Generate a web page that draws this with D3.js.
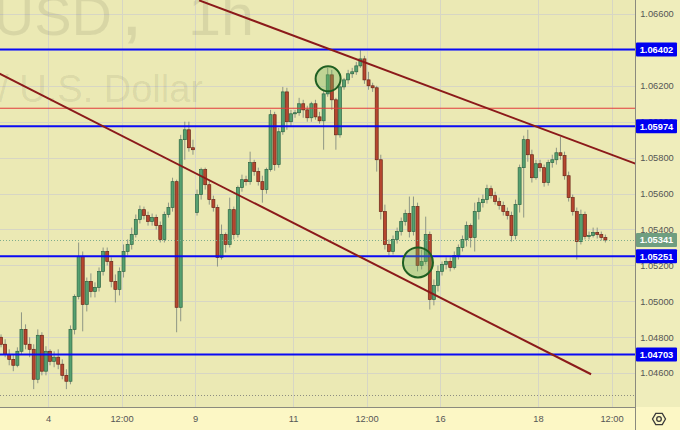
<!DOCTYPE html>
<html><head><meta charset="utf-8">
<script src="https://cdn.jsdelivr.net/npm/d3@7"></script>
<style>html,body{margin:0;padding:0;background:#fcf7c5;} svg{display:block;}</style>
</head><body><svg id="c" width="680" height="430"></svg>
<script>
// ---- data ----
const days = ["3","4","5","6","9","10","11","12","13","16","17","18","19"];
const barsPerDay = 12; // 2-hour bars
const opens = [
1.04799,1.04760,1.04704,1.04676,1.04643,1.04721,1.04843,1.04760,1.04732,1.04565,1.04810,1.04610,
1.04721,1.04665,1.04688,1.04649,1.04587,1.04554,1.04843,1.05027,1.05249,1.04982,1.05110,1.05054,
1.05077,1.05166,1.05277,1.05221,1.05110,1.05066,1.05166,1.05277,1.05316,1.05371,1.05455,1.05510,
1.05477,1.05444,1.05466,1.05421,1.05344,1.05483,1.05522,1.05666,1.04966,1.05900,1.05955,1.05855,
1.05494,1.05594,1.05733,1.05649,1.05566,1.05522,1.05244,1.05371,1.05316,1.05510,1.05371,1.05633,
1.05677,1.05666,1.05772,1.05722,1.05666,1.05622,1.05733,1.06039,1.05761,1.05944,1.06166,1.06000,
1.06044,1.06050,1.06100,1.06066,1.06022,1.06100,1.06027,1.06005,1.06155,1.06261,1.06122,1.05927,
1.06194,1.06233,1.06267,1.06278,1.06311,1.06350,1.06233,1.06200,1.06189,1.05788,1.05499,1.05316,
1.05277,1.05344,1.05388,1.05444,1.05488,1.05388,1.05527,1.05199,1.05221,1.05371,1.05010,1.05088,
1.05166,1.05205,1.05221,1.05188,1.05255,1.05299,1.05344,1.05421,1.05355,1.05499,1.05549,1.05566,
1.05627,1.05588,1.05555,1.05533,1.05499,1.05477,1.05366,1.05538,1.05744,1.05900,1.05816,1.05688,
1.05766,1.05744,1.05661,1.05772,1.05788,1.05827,1.05811,1.05699,1.05577,1.05499,1.05332,1.05483,
1.05360,1.05366,1.05383,1.05371,1.05355];
const highs = [
1.04815,1.04788,1.04732,1.04704,1.04743,1.04938,1.04871,1.04799,1.04760,1.04843,1.04827,1.04749,
1.04732,1.04721,1.04732,1.04676,1.04621,1.04865,1.05038,1.05327,1.05277,1.05132,1.05155,1.05105,
1.05188,1.05299,1.05299,1.05244,1.05149,1.05188,1.05316,1.05344,1.05410,1.05483,1.05533,1.05527,
1.05499,1.05488,1.05483,1.05444,1.05499,1.05549,1.05688,1.05677,1.05927,1.06000,1.06000,1.05900,
1.05622,1.05744,1.05744,1.05677,1.05588,1.05538,1.05427,1.05383,1.05577,1.05527,1.05644,1.05705,
1.05699,1.05833,1.05788,1.05744,1.05699,1.05744,1.06066,1.06055,1.05966,1.06194,1.06189,1.06066,
1.06066,1.06133,1.06122,1.06089,1.06111,1.06122,1.06055,1.06178,1.06300,1.06289,1.06133,1.06211,
1.06244,1.06289,1.06300,1.06333,1.06400,1.06367,1.06278,1.06217,1.06200,1.05816,1.05538,1.05344,
1.05366,1.05410,1.05466,1.05510,1.05583,1.05583,1.05549,1.05288,1.05471,1.05388,1.05121,1.05199,
1.05221,1.05244,1.05244,1.05277,1.05316,1.05366,1.05444,1.05433,1.05549,1.05577,1.05594,1.05649,
1.05644,1.05610,1.05577,1.05555,1.05522,1.05499,1.05566,1.05761,1.05922,1.05955,1.05844,1.05788,
1.05788,1.05761,1.05788,1.05816,1.05855,1.05916,1.05833,1.05722,1.05594,1.05522,1.05510,1.05499,
1.05388,1.05410,1.05410,1.05388,1.05371];
const lows = [
1.04743,1.04688,1.04643,1.04610,1.04632,1.04704,1.04732,1.04688,1.04510,1.04543,1.04587,1.04587,
1.04643,1.04632,1.04621,1.04565,1.04510,1.04537,1.04815,1.05010,1.04832,1.04943,1.05021,1.05021,
1.05054,1.05143,1.05199,1.05077,1.04993,1.05032,1.05132,1.05255,1.05288,1.05355,1.05433,1.05455,
1.05421,1.05421,1.05399,1.05327,1.05327,1.05466,1.05499,1.04827,1.04888,1.05788,1.05833,1.05816,
1.05477,1.05566,1.05622,1.05538,1.05499,1.05193,1.05232,1.05271,1.05299,1.05344,1.05355,1.05610,
1.05644,1.05649,1.05699,1.05644,1.05549,1.05599,1.05722,1.05727,1.05744,1.05927,1.05955,1.05977,
1.06022,1.06033,1.06022,1.06000,1.06000,1.06011,1.05989,1.05844,1.06139,1.06066,1.05844,1.05911,
1.06178,1.06211,1.06244,1.06261,1.06300,1.06211,1.06178,1.06166,1.05722,1.05455,1.05288,1.05255,
1.05260,1.05321,1.05366,1.05421,1.05355,1.05366,1.05166,1.05177,1.05205,1.04954,1.04977,1.05054,
1.05143,1.05177,1.05166,1.05177,1.05232,1.05277,1.05305,1.05299,1.05277,1.05455,1.05522,1.05544,
1.05572,1.05538,1.05510,1.05477,1.05455,1.05332,1.05344,1.05494,1.05466,1.05777,1.05661,1.05677,
1.05722,1.05638,1.05644,1.05744,1.05761,1.05788,1.05677,1.05555,1.05477,1.05232,1.05316,1.05344,
1.05344,1.05355,1.05349,1.05338,1.05327];
const closes = [
1.04760,1.04704,1.04676,1.04643,1.04721,1.04843,1.04760,1.04732,1.04565,1.04810,1.04610,1.04721,
1.04665,1.04688,1.04649,1.04587,1.04554,1.04843,1.05027,1.05249,1.04982,1.05110,1.05054,1.05077,
1.05166,1.05277,1.05221,1.05110,1.05066,1.05166,1.05277,1.05316,1.05371,1.05455,1.05510,1.05477,
1.05444,1.05466,1.05421,1.05344,1.05483,1.05522,1.05666,1.04966,1.05900,1.05955,1.05855,1.05844,
1.05594,1.05733,1.05649,1.05566,1.05522,1.05244,1.05371,1.05316,1.05510,1.05371,1.05633,1.05677,
1.05666,1.05772,1.05722,1.05666,1.05622,1.05733,1.06039,1.05761,1.05944,1.06166,1.06000,1.06044,
1.06050,1.06100,1.06066,1.06022,1.06100,1.06027,1.06005,1.06155,1.06261,1.06122,1.05927,1.06194,
1.06233,1.06267,1.06278,1.06311,1.06350,1.06233,1.06200,1.06189,1.05788,1.05499,1.05316,1.05277,
1.05344,1.05388,1.05444,1.05488,1.05388,1.05527,1.05199,1.05221,1.05371,1.05010,1.05088,1.05166,
1.05205,1.05221,1.05188,1.05255,1.05299,1.05344,1.05421,1.05355,1.05499,1.05549,1.05566,1.05627,
1.05588,1.05555,1.05533,1.05499,1.05477,1.05366,1.05538,1.05744,1.05900,1.05816,1.05688,1.05766,
1.05744,1.05661,1.05772,1.05788,1.05827,1.05811,1.05699,1.05577,1.05499,1.05332,1.05483,1.05360,
1.05366,1.05383,1.05371,1.05355,1.05341];

const priceTicks = [1.046,1.048,1.050,1.052,1.054,1.056,1.058,1.060,1.062,1.064,1.066];
const timeTickLabels = ["4","12:00","9","11","12:00","16","18","12:00"];
const timeTickBars   = [12, 30, 48, 72, 90, 108, 132, 150];

const blueLevels = [1.06402, 1.05974, 1.05251, 1.04703];
const redLevel = 1.06075;
const lastPrice = 1.05341;
const dottedLevel = 1.04478;
const trendUpper = [[49, 1.06676], [156, 1.05765]];
const trendLower = [[0, 1.06269], [145, 1.04593]];
const circleMarks = [[80.6, 1.06239, 12.5], [102.6, 1.05216, 15]];

// ---- drawing ----
const plotR = 635, plotB = 407;
const svg = d3.select("#c");
const x = d3.scaleLinear().domain([0, 156]).range([-1, 636]);
const y = d3.scaleLinear().domain([1.046, 1.066]).range([373, 14]);

const bars = closes.map((c, i) => ({i, o: opens[i], h: highs[i], l: lows[i], c}));

svg.append("rect").attr("x",0).attr("y",0).attr("width",680).attr("height",430).attr("fill","#fcf7c5");
svg.append("rect").attr("x",0).attr("y",0).attr("width",plotR).attr("height",plotB).attr("fill","#ebe9b4");
svg.append("rect").attr("x",plotR).attr("y",0).attr("width",45).attr("height",plotB).attr("fill","#efedbb");

svg.append("defs").append("clipPath").attr("id","clip")
  .append("rect").attr("x",0).attr("y",0).attr("width",plotR).attr("height",plotB);
const plot = svg.append("g").attr("clip-path","url(#clip)");

// grid
plot.selectAll(".hg").data(priceTicks).enter().append("line")
  .attr("x1",0).attr("x2",plotR).attr("y1",d=>Math.round(y(d))+0.5).attr("y2",d=>Math.round(y(d))+0.5)
  .attr("stroke","#d7d6c4").attr("stroke-width",1);
plot.selectAll(".vg").data(timeTickBars).enter().append("line")
  .attr("y1",0).attr("y2",plotB).attr("x1",d=>Math.round(x(d))+0.5).attr("x2",d=>Math.round(x(d))+0.5)
  .attr("stroke","#d7d6c4").attr("stroke-width",1);

// watermark
const wm = plot.append("g").attr("fill","rgba(0,0,0,0.08)").attr("font-family","Liberation Sans, Arial, sans-serif");
wm.append("text").attr("x",112).attr("y",35).attr("text-anchor","end").attr("font-size",56).text("EURUSD");
wm.append("text").attr("x",124).attr("y",35).attr("font-size",56).attr("font-weight","bold").text(",");
wm.append("text").attr("x",188).attr("y",35).attr("font-size",58).attr("textLength",66).attr("lengthAdjust","spacingAndGlyphs").text("1h");
wm.append("text").attr("x",203).attr("y",102).attr("text-anchor","end").attr("font-size",38).text("Euro / U.S. Dollar");

// dotted bottom line
plot.append("line").attr("x1",0).attr("x2",plotR).attr("y1",Math.round(y(dottedLevel))+0.5).attr("y2",Math.round(y(dottedLevel))+0.5)
  .attr("stroke","#8d8d80").attr("stroke-width",1).attr("stroke-dasharray","1,2");

// candles
const cg = plot.append("g");
const bw = 3;
cg.selectAll(".wick").data(bars).enter().append("line")
  .attr("x1",d=>x(d.i+0.5)).attr("x2",d=>x(d.i+0.5))
  .attr("y1",d=>y(d.h)).attr("y2",d=>y(d.l))
  .attr("stroke","#8e9684").attr("stroke-width",1);
cg.selectAll(".body").data(bars).enter().append("rect")
  .attr("x",d=>x(d.i+0.5)-bw/2).attr("width",bw)
  .attr("y",d=>y(Math.max(d.o,d.c)))
  .attr("height",d=>Math.max(1,Math.abs(y(d.o)-y(d.c))))
  .attr("fill",d=>d.c>=d.o?"#55a070":"#b6462f")
  .attr("stroke",d=>d.c>=d.o?"#2e6644":"#6b2618").attr("stroke-width",0.7);

// current price dotted line
plot.append("line").attr("x1",0).attr("x2",plotR).attr("y1",Math.round(y(lastPrice))+0.5).attr("y2",Math.round(y(lastPrice))+0.5)
  .attr("stroke","#7fae8c").attr("stroke-width",1).attr("stroke-dasharray","1,2");

// red level
plot.append("line").attr("x1",0).attr("x2",plotR).attr("y1",y(redLevel)).attr("y2",y(redLevel))
  .attr("stroke","#e23b3b").attr("stroke-width",1);

// blue levels
plot.selectAll(".bl").data(blueLevels).enter().append("line")
  .attr("x1",0).attr("x2",plotR).attr("y1",d=>y(d)).attr("y2",d=>y(d))
  .attr("stroke","#0a0af5").attr("stroke-width",2);

// trend lines
[trendUpper, trendLower].forEach(t => {
  plot.append("line").attr("x1",x(t[0][0])).attr("y1",y(t[0][1])).attr("x2",x(t[1][0])).attr("y2",y(t[1][1]))
    .attr("stroke","#8b1a1a").attr("stroke-width",2);
});

// circles
plot.selectAll(".cm").data(circleMarks).enter().append("circle")
  .attr("cx",d=>x(d[0])).attr("cy",d=>y(d[1])).attr("r",d=>d[2])
  .attr("fill","rgba(110,175,90,0.35)").attr("stroke","#1f5f22").attr("stroke-width",2);

// axes borders
svg.append("line").attr("x1",0).attr("x2",plotR).attr("y1",plotB+0.5).attr("y2",plotB+0.5).attr("stroke","#8a8a7e").attr("stroke-width",1);
svg.append("line").attr("x1",plotR+0.5).attr("x2",plotR+0.5).attr("y1",0).attr("y2",430).attr("stroke","#8a8a7e").attr("stroke-width",1);

const font = "Liberation Sans, Arial, sans-serif";
// right axis labels
const yAxis = d3.axisRight(y).tickValues(priceTicks).tickFormat(d3.format(".5f")).tickSize(0).tickPadding(6);
const ya = svg.append("g").attr("transform",`translate(${plotR},0)`).call(yAxis);
ya.select(".domain").remove();
ya.selectAll("text").attr("font-family",font).attr("font-size",9.3).attr("fill","#555").attr("x",22).attr("text-anchor","middle");

// bottom axis labels
const xAxis = d3.axisBottom(x).tickValues(timeTickBars).tickFormat((d,i)=>timeTickLabels[i]).tickSize(0).tickPadding(8);
const xa = svg.append("g").attr("transform",`translate(0,${plotB})`).call(xAxis);
xa.select(".domain").remove();
xa.selectAll("text").attr("font-family",font).attr("font-size",9.3).attr("fill","#555");

// level labels
function tag(v, fill) {
  const g = svg.append("g");
  g.append("rect").attr("x",plotR+1).attr("y",y(v)-7).attr("width",41).attr("height",14).attr("fill",fill).attr("rx",1);
  g.append("text").attr("x",plotR+21.5).attr("y",y(v)+3.4).attr("text-anchor","middle")
    .attr("font-family",font).attr("font-size",9.3).attr("font-weight","bold").attr("fill","#fff")
    .text(d3.format(".5f")(v));
}
blueLevels.forEach(v => tag(v, "#0000f0"));
tag(lastPrice, "#6f9e80");

// settings icon
const gx = 659, gy = 419, gr = 6.5;
const hex = d3.range(6).map(k => [gx + gr*Math.cos(Math.PI/3*k), gy + gr*Math.sin(Math.PI/3*k)]);
svg.append("path").attr("d", d3.line()(hex) + "Z").attr("fill","none").attr("stroke","#3a3a3a").attr("stroke-width",1.3);
svg.append("circle").attr("cx",gx).attr("cy",gy).attr("r",2.3).attr("fill","none").attr("stroke","#3a3a3a").attr("stroke-width",1.3);
</script></body></html>
